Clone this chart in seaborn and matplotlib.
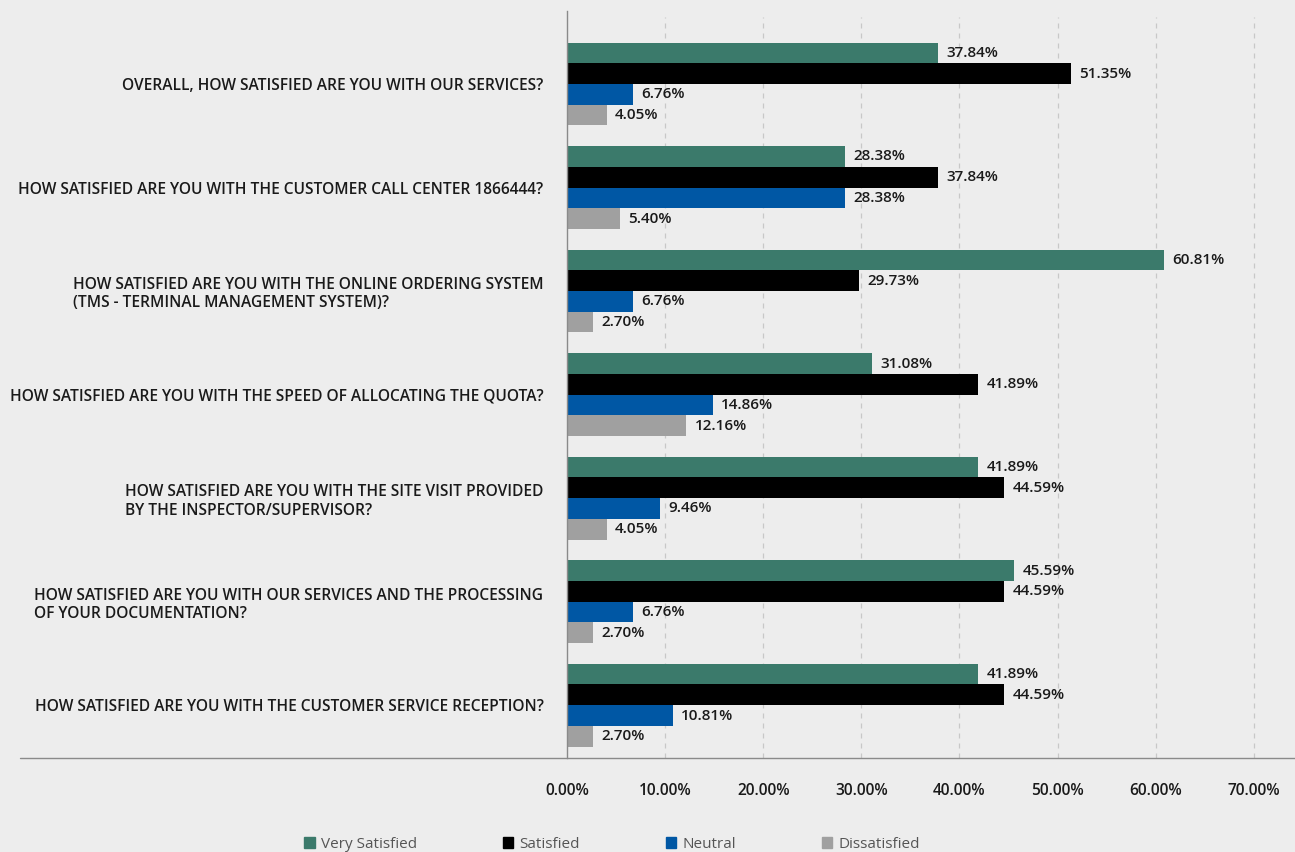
import matplotlib
matplotlib.use("Agg")
import matplotlib.pyplot as plt
from matplotlib.lines import Line2D
import pandas as pd
import seaborn as sns

questions = [
    "OVERALL, HOW SATISFIED ARE YOU WITH OUR SERVICES?",
    "HOW SATISFIED ARE YOU WITH THE CUSTOMER CALL CENTER 1866444?",
    "HOW SATISFIED ARE YOU WITH THE ONLINE ORDERING SYSTEM\n(TMS - TERMINAL MANAGEMENT SYSTEM)?",
    "HOW SATISFIED ARE YOU WITH THE SPEED OF ALLOCATING THE QUOTA?",
    "HOW SATISFIED ARE YOU WITH THE SITE VISIT PROVIDED\nBY THE INSPECTOR/SUPERVISOR?",
    "HOW SATISFIED ARE YOU WITH OUR SERVICES AND THE PROCESSING\nOF YOUR DOCUMENTATION?",
    "HOW SATISFIED ARE YOU WITH THE CUSTOMER SERVICE RECEPTION?",
]
levels = ["Very Satisfied", "Satisfied", "Neutral", "Dissatisfied"]
very_satisfied = [37.84, 28.38, 60.81, 31.08, 41.89, 45.59, 41.89]
satisfied = [51.35, 37.84, 29.73, 41.89, 44.59, 44.59, 44.59]
neutral = [6.76, 28.38, 6.76, 14.86, 9.46, 6.76, 10.81]
dissatisfied = [4.05, 5.40, 2.70, 12.16, 4.05, 2.70, 2.70]
x_ticks = [0, 10, 20, 30, 40, 50, 60, 70]

colors = ["#3b7a6b", "#000000", "#0057a4", "#a0a0a0"]
bg = "#ededed"

rows = []
for series, vals in zip(levels, [very_satisfied, satisfied, neutral, dissatisfied]):
    for q, v in zip(questions, vals):
        rows.append({"question": q, "level": series, "pct": v})
df = pd.DataFrame(rows)

sns.set_theme(style="white")
plt.rcParams["font.family"] = ["Open Sans", "DejaVu Sans"]

fig = plt.figure(figsize=(12.95, 8.52), dpi=100, facecolor=bg)
W, H = 1295, 852
ax = fig.add_axes([567 / W, 1 - 758 / H, (1295 - 567) / W, (758 - 11) / H])
ax.set_facecolor(bg)

sns.barplot(data=df, y="question", x="pct", hue="level", order=questions,
            hue_order=levels, palette=colors, orient="h", width=0.8,
            saturation=1, ax=ax, legend=False, linewidth=0)

for cont in ax.containers:
    ax.bar_label(cont, labels=[f"{b.get_width():.2f}%" for b in cont],
                 padding=6, fontsize=11, fontweight="semibold", color="#1a1a1a")

ax.set_xlim(0, 74.2)
ax.set_ylim(6.51, -0.705)
ax.set_xticks(x_ticks)
ax.set_xticklabels([f"{t:.2f}%" for t in x_ticks], fontsize=11.2,
                   fontweight="semibold", color="#1a1a1a")
ax.tick_params(axis="x", length=0, pad=18)
ax.tick_params(axis="y", length=0, pad=17)
for lab in ax.get_yticklabels():
    lab.set_fontsize(11.2)
    lab.set_fontweight("semibold")
    lab.set_color("#1a1a1a")
    lab.set_multialignment("left")
ax.set_xlabel("")
ax.set_ylabel("")

for t in x_ticks[1:]:
    ax.plot([t, t], [6.51, -0.65], ls=(0, (4, 4)), color="#c8c8c8", lw=0.9, zorder=0)

for side in ["top", "right", "bottom"]:
    ax.spines[side].set_visible(False)
ax.spines["left"].set_color("#8a8a8a")
ax.spines["left"].set_linewidth(1.0)

# baseline running under the question labels as well
fig.add_artist(Line2D([20 / W, 1.0], [1 - 758 / H, 1 - 758 / H],
                      color="#8a8a8a", lw=1.0, transform=fig.transFigure))

handles = [plt.Rectangle((0, 0), 1, 1, color=c) for c in colors]
fig.legend(handles, levels, loc="center", bbox_to_anchor=(612 / W, 1 - 844 / H),
           ncol=4, frameon=False, fontsize=11, handlelength=0.7,
           handleheight=0.7, handletextpad=0.4, columnspacing=5.6,
           labelcolor="#555555")

fig.savefig("out.png", dpi=100, facecolor=bg)
